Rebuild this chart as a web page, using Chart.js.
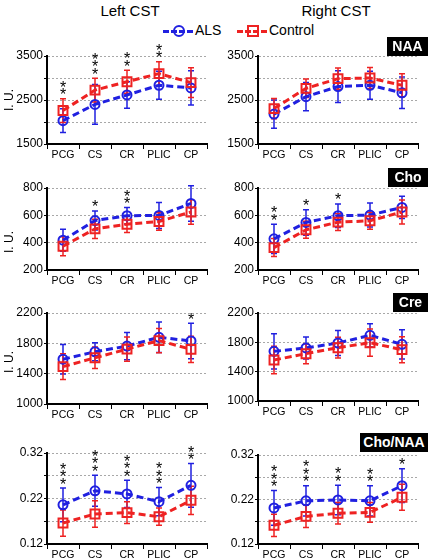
<!DOCTYPE html>
<html>
<head>
<meta charset="utf-8">
<script src="https://cdn.jsdelivr.net/npm/chart.js@4"></script>
<style>
  body { margin: 0; background: #fff; font-family: "Liberation Sans", Arial, sans-serif; }
  #page { position: relative; width: 430px; height: 559px; overflow: hidden; }
  canvas { position: absolute; z-index: 1; }
  .txt { position: absolute; z-index: 2; white-space: nowrap; color: #000; }
  .col-title { font-size: 15px; top: 2px; transform: translateX(-50%); }
  .tag { position: absolute; z-index: 2; background: #000; color: #fff; font-weight: bold; font-size: 14px; text-align: center; line-height: 19px; height: 19px; }
  .ylab { font-size: 12px; transform: translate(-50%, -50%) rotate(-90deg); }
  .leg { position: absolute; z-index: 2; font-size: 14px; top: 22px; line-height: 16px; white-space: nowrap; }
  .mk { display: inline-block; position: relative; width: 30px; height: 0; border-top: 3px dashed; vertical-align: middle; margin-right: 2px; }
  .mk i { position: absolute; left: 10px; top: -7.5px; width: 8px; height: 8px; border: 2px solid; box-sizing: content-box; }
  .mk.als { border-color: #2020e0; }
  .mk.als i { border-color: #2020e0; border-radius: 50%; }
  .mk.ctl { border-color: #ee2222; }
  .mk.ctl i { border-color: #ee2222; }
</style>
</head>
<body>
<div id="page">
  <div class="txt col-title" style="left:130px">Left CST</div>
  <div class="txt col-title" style="left:336px">Right CST</div>
  <div class="leg" style="left:163px"><span class="mk als"><i></i></span>ALS</div>
  <div class="leg" style="left:237px"><span class="mk ctl"><i></i></span>Control</div>

  <div class="tag" style="left:387px; top:37px; width:41px">NAA</div>
  <div class="tag" style="left:388px; top:168px; width:40px">Cho</div>
  <div class="tag" style="left:393px; top:293px; width:35px">Cre</div>
  <div class="tag" style="left:360px; top:433px; width:68px">Cho/NAA</div>

  <div class="txt ylab" style="left:9px; top:100px">I. U.</div>
  <div class="txt ylab" style="left:9px; top:242px">I. U.</div>
  <div class="txt ylab" style="left:9px; top:362px">I. U.</div>

  <canvas id="leftNaa"></canvas>
  <canvas id="rightNaa"></canvas>
  <canvas id="leftCho"></canvas>
  <canvas id="rightCho"></canvas>
  <canvas id="leftCre"></canvas>
  <canvas id="rightCre"></canvas>
  <canvas id="leftRatio"></canvas>
  <canvas id="rightRatio"></canvas>
</div>
<script>
const categories = ['PCG', 'CS', 'CR', 'PLIC', 'CP'];

// NAA
const leftNaaAls = [2030, 2400, 2615, 2835, 2775];
const leftNaaAlsSd = [270, 450, 300, 320, 390];
const leftNaaCtl = [2260, 2725, 2915, 3100, 2895];
const leftNaaCtlSd = [270, 270, 260, 270, 340];
const leftNaaStars = [2, 3, 2, 2, 0];

const rightNaaAls = [2180, 2575, 2805, 2835, 2665];
const rightNaaAlsSd = [320, 320, 360, 320, 360];
const rightNaaCtl = [2305, 2765, 2985, 3000, 2835];
const rightNaaCtlSd = [230, 210, 240, 240, 260];
const rightNaaStars = [0, 0, 0, 0, 0];

// Cho
const leftChoAls = [418, 562, 597, 599, 687];
const leftChoAlsSd = [80, 70, 60, 95, 130];
const leftChoCtl = [374, 501, 535, 555, 624];
const leftChoCtlSd = [70, 70, 60, 64, 90];
const leftChoStars = [0, 1, 2, 0, 0];

const rightChoAls = [428, 548, 597, 602, 658];
const rightChoAlsSd = [107, 93, 86, 88, 81];
const rightChoCtl = [364, 494, 550, 560, 624];
const rightChoCtlSd = [66, 62, 61, 61, 88];
const rightChoStars = [2, 1, 1, 0, 0];

// Cre
const leftCreAls = [1591, 1689, 1764, 1880, 1831];
const leftCreAlsSd = [195, 120, 180, 200, 235];
const leftCreCtl = [1493, 1609, 1724, 1836, 1720];
const leftCreCtlSd = [170, 142, 160, 160, 173];
const leftCreStars = [0, 0, 0, 0, 1];

const rightCreAls = [1677, 1723, 1791, 1895, 1773];
const rightCreAlsSd = [240, 150, 170, 160, 200];
const rightCreCtl = [1559, 1645, 1727, 1795, 1700];
const rightCreCtlSd = [186, 136, 141, 186, 177];
const rightCreStars = [0, 0, 0, 0, 0];

// Cho/NAA
const leftRatioAls = [0.206, 0.237, 0.230, 0.213, 0.249];
const leftRatioAlsSd = [0.037, 0.034, 0.030, 0.031, 0.048];
const leftRatioCtl = [0.166, 0.186, 0.189, 0.180, 0.216];
const leftRatioCtlSd = [0.029, 0.029, 0.024, 0.019, 0.031];
const leftRatioStars = [3, 3, 3, 3, 2];

const rightRatioAls = [0.201, 0.217, 0.219, 0.217, 0.251];
const rightRatioAlsSd = [0.039, 0.034, 0.033, 0.034, 0.038];
const rightRatioCtl = [0.162, 0.182, 0.189, 0.191, 0.225];
const rightRatioCtlSd = [0.025, 0.025, 0.024, 0.022, 0.029];
const rightRatioStars = [3, 3, 2, 2, 1];

// labelled y ticks (others are unlabelled)
const naaTickLabels = [1500, 2500, 3500];
const choTickLabels = [200, 400, 600, 800];
const creTickLabels = [1000, 1400, 1800, 2200];
const ratioTickLabels = [0.12, 0.22, 0.32];

const BLUE = '#2020e0';
const RED = '#ee2222';
const FONT = 'Liberation Sans, Arial, sans-serif';
const PAD_TOP = 18;
const PAD_RIGHT = 8;
const X_AXIS_H = 20;

const marks = {
    id: 'marks',
    beforeDatasetsDraw(chart) {
        const ctx = chart.ctx;
        const y = chart.scales.y;
        ctx.save();
        ctx.lineWidth = 1.5;
        chart.data.datasets.forEach((ds, i) => {
            const meta = chart.getDatasetMeta(i);
            ctx.strokeStyle = ds.borderColor;
            meta.data.forEach((pt, j) => {
                const top = y.getPixelForValue(ds.data[j] + ds.sd[j]);
                const bot = y.getPixelForValue(ds.data[j] - ds.sd[j]);
                ctx.beginPath();
                ctx.moveTo(pt.x, top);
                ctx.lineTo(pt.x, bot);
                ctx.moveTo(pt.x - 3, top);
                ctx.lineTo(pt.x + 3, top);
                ctx.moveTo(pt.x - 3, bot);
                ctx.lineTo(pt.x + 3, bot);
                ctx.stroke();
            });
        });
        ctx.restore();
    },
    afterDatasetsDraw(chart, args, opts) {
        const stars = opts.stars || [];
        const ctx = chart.ctx;
        const x = chart.scales.x;
        const y = chart.scales.y;
        ctx.save();
        ctx.fillStyle = '#000';
        ctx.font = '16px ' + FONT;
        ctx.textAlign = 'center';
        ctx.textBaseline = 'alphabetic';
        stars.forEach((n, j) => {
            if (!n) return;
            let top = Infinity;
            chart.data.datasets.forEach(ds => {
                top = Math.min(top, y.getPixelForValue(ds.data[j] + ds.sd[j]));
            });
            const px = x.getPixelForValue(j);
            for (let k = 0; k < n; k++) {
                const cy = top - 7.5 - k * 7.4;
                ctx.fillText('*', px, cy + 9);
            }
        });
        ctx.restore();
    }
};

function yAxis(min, max, step, labels, decimals) {
    return {
        min: min,
        max: max,
        afterFit: s => { s.width = s.options.fixedWidth; },
        border: { color: '#000', width: 2, dash: [2, 2] },
        grid: { color: '#a8a8a8', lineWidth: 1, tickColor: '#000', tickLength: 3, tickBorderDash: [], tickWidth: 1 },
        ticks: {
            stepSize: step,
            autoSkip: false,
            padding: 1,
            color: '#000',
            font: { size: 12, family: FONT },
            callback: v => labels.some(l => Math.abs(l - v) < step / 100) ? v.toFixed(decimals) : ''
        }
    };
}

function makePanel(id, plotLeft, plotTop, axisW, plotH, axis, als, alsSd, ctl, ctlSd, stars) {
    const el = document.getElementById(id);
    el.width = axisW + 160 + PAD_RIGHT;
    el.height = PAD_TOP + plotH + X_AXIS_H;
    el.style.left = (plotLeft - axisW) + 'px';
    el.style.top = (plotTop - PAD_TOP) + 'px';
    const yOpts = Object.assign({}, axis, { fixedWidth: axisW });
    new Chart(el, {
        type: 'line',
        data: {
            labels: categories,
            datasets: [{
                label: 'ALS',
                data: als,
                sd: alsSd,
                borderColor: BLUE,
                borderWidth: 3,
                borderDash: [7, 4],
                pointStyle: 'circle',
                pointRadius: 4.5,
                pointBorderWidth: 2,
                pointBackgroundColor: 'rgba(0,0,0,0)',
                pointBorderColor: BLUE,
                order: 1,
                clip: false
            }, {
                label: 'Control',
                data: ctl,
                sd: ctlSd,
                borderColor: RED,
                borderWidth: 3,
                borderDash: [7, 4],
                pointStyle: 'rect',
                pointRadius: 6.3,
                pointBorderWidth: 2,
                pointBackgroundColor: 'rgba(0,0,0,0)',
                pointBorderColor: RED,
                order: 0,
                clip: false
            }]
        },
        options: {
            responsive: false,
            animation: false,
            devicePixelRatio: 1,
            layout: { autoPadding: false, padding: { top: PAD_TOP, right: PAD_RIGHT, left: 0, bottom: 0 } },
            plugins: {
                legend: { display: false },
                tooltip: { enabled: false },
                marks: { stars: stars }
            },
            scales: {
                x: {
                    offset: true,
                    afterFit: s => { s.height = X_AXIS_H; },
                    border: { color: '#000', width: 2 },
                    grid: { display: true, drawOnChartArea: false, offset: true, tickLength: 5, tickColor: '#000', tickWidth: 1 },
                    ticks: { padding: 0, color: '#000', maxRotation: 0, autoSkip: false, font: { size: 10.5, family: FONT } }
                },
                y: yOpts
            }
        },
        plugins: [marks]
    });
}

const naaAxis = yAxis(1500, 3500, 500, naaTickLabels, 0);
const choAxis = yAxis(200, 800, 200, choTickLabels, 0);
const creAxis = yAxis(1000, 2200, 400, creTickLabels, 0);
const ratioAxis = yAxis(0.12, 0.32, 0.05, ratioTickLabels, 2);

makePanel('leftNaa', 47, 56, 47, 88, naaAxis, leftNaaAls, leftNaaAlsSd, leftNaaCtl, leftNaaCtlSd, leftNaaStars);
makePanel('rightNaa', 258, 56, 43, 88, naaAxis, rightNaaAls, rightNaaAlsSd, rightNaaCtl, rightNaaCtlSd, rightNaaStars);
makePanel('leftCho', 47, 188, 47, 82, choAxis, leftChoAls, leftChoAlsSd, leftChoCtl, leftChoCtlSd, leftChoStars);
makePanel('rightCho', 258, 188, 43, 82, choAxis, rightChoAls, rightChoAlsSd, rightChoCtl, rightChoCtlSd, rightChoStars);
makePanel('leftCre', 47, 313, 47, 91, creAxis, leftCreAls, leftCreAlsSd, leftCreCtl, leftCreCtlSd, leftCreStars);
makePanel('rightCre', 258, 313, 43, 88, creAxis, rightCreAls, rightCreAlsSd, rightCreCtl, rightCreCtlSd, rightCreStars);
makePanel('leftRatio', 47, 453, 47, 91, ratioAxis, leftRatioAls, leftRatioAlsSd, leftRatioCtl, leftRatioCtlSd, leftRatioStars);
makePanel('rightRatio', 258, 455, 43, 89, ratioAxis, rightRatioAls, rightRatioAlsSd, rightRatioCtl, rightRatioCtlSd, rightRatioStars);
</script>
</body>
</html>
